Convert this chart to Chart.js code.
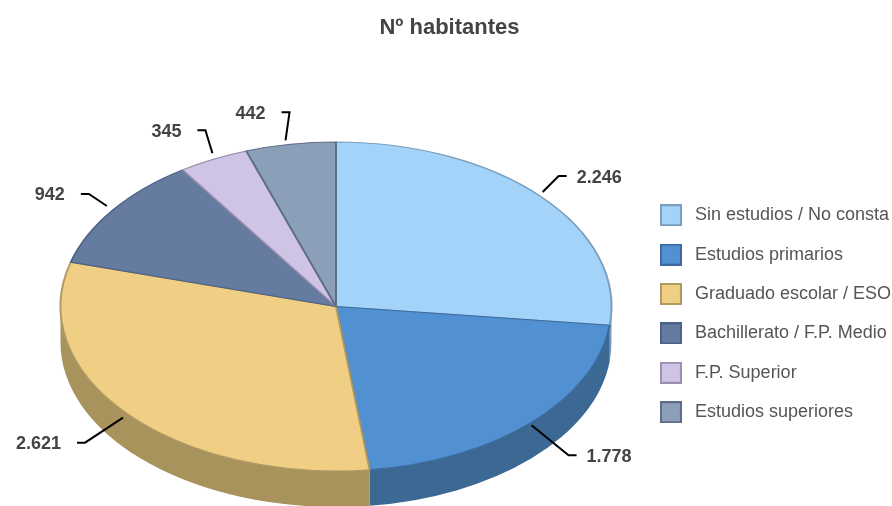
<!DOCTYPE html>
<html>
<head>
<meta charset="utf-8">
<script src="https://cdn.jsdelivr.net/npm/chart.js@4"></script>
<style>
    body { margin: 0; background: #fff; }
    canvas { display: block; }
</style>
</head>
<body>
<canvas id="pie" width="892" height="506"></canvas>
<script>
// datos
const categories = ['Sin estudios / No consta', 'Estudios primarios', 'Graduado escolar / ESO', 'Bachillerato / F.P. Medio', 'F.P. Superior', 'Estudios superiores'];
const habitantes = [2246, 1778, 2621, 942, 345, 442];
const valueLabels = ['2.246', '1.778', '2.621', '942', '345', '442'];

// colores
const topColors = ['#a4d3f9', '#5291d1', '#f0cf85', '#667ba0', '#cfc3e6', '#8b9fb8'];
const borderColors = ['#7a9fbe', '#3d6a9e', '#ae9a63', '#4d6288', '#9a8fae', '#5f6d88'];
const wallColors = ['#7b9fbd', '#3c6894', '#a8935c', '#4d5c78', '#9b92ad', '#68778a'];

// perspectiva de la tarta
const pieCentre = { x: 336, y: 306.5 };
const pieRadius = 275.5;
const tilt = 0.597;
const depth = 36;

// lineas de etiqueta, relativas al punto medio del borde de cada porcion
const leaderStart = [[1, -5], [0, 3], [-4, 4], [-6, -4], [-1, -6], [-5, -4]];
const leaderElbow = [[17, -21], [37, 33], [-42, 29], [-24, -16], [-8, -29], [-1, -32]];

// cuadrado de la leyenda
function makeSwatch(fill, stroke) {
    const c = document.createElement('canvas');
    c.width = 22;
    c.height = 22;
    const g = c.getContext('2d');
    g.fillStyle = stroke;
    g.fillRect(0, 0, 22, 22);
    g.fillStyle = fill;
    g.fillRect(2, 2, 18, 18);
    return c;
}

const pie3d = {
    id: 'pie3d',
    beforeDatasetsDraw(chart) {
        const ctx = chart.ctx;
        const arcs = chart.getDatasetMeta(0).data;
        const rx = pieRadius;
        const ry = pieRadius * tilt;

        // pared lateral: solo la mitad inferior de la elipse
        arcs.forEach((arc, i) => {
            const lo = Math.max(arc.startAngle, 0);
            const hi = Math.min(arc.endAngle, Math.PI);
            if (hi <= lo) return;
            ctx.beginPath();
            ctx.ellipse(pieCentre.x, pieCentre.y, rx, ry, 0, lo, hi);
            ctx.ellipse(pieCentre.x, pieCentre.y + depth, rx, ry, 0, hi, lo, true);
            ctx.closePath();
            ctx.fillStyle = wallColors[i];
            ctx.fill();
        });

        // la tapa se dibuja aplastada con la propia escala de Chart.js
        const first = arcs[0];
        ctx.save();
        ctx.translate(pieCentre.x, pieCentre.y);
        ctx.scale(1, tilt);
        ctx.translate(-first.x, -first.y);
    },
    afterDatasetsDraw(chart) {
        const ctx = chart.ctx;
        ctx.restore();

        const arcs = chart.getDatasetMeta(0).data;
        ctx.font = 'bold 18px "Liberation Sans"';
        ctx.textBaseline = 'middle';
        arcs.forEach((arc, i) => {
            const mid = (arc.startAngle + arc.endAngle) / 2;
            const px = pieCentre.x + pieRadius * Math.cos(mid);
            const py = pieCentre.y + pieRadius * tilt * Math.sin(mid);
            const ex = px + leaderElbow[i][0];
            const ey = py + leaderElbow[i][1];
            const side = Math.cos(mid) > 0 ? 1 : -1;

            ctx.beginPath();
            ctx.moveTo(px + leaderStart[i][0], py + leaderStart[i][1]);
            ctx.lineTo(ex, ey);
            ctx.lineTo(ex + side * 8, ey);
            ctx.strokeStyle = '#000';
            ctx.lineWidth = 2;
            ctx.stroke();

            ctx.fillStyle = '#444';
            ctx.textAlign = side > 0 ? 'left' : 'right';
            ctx.fillText(valueLabels[i], ex + side * (side > 0 ? 18 : 24), ey + 1.5);
        });
    }
};

new Chart(document.getElementById('pie').getContext('2d'), {
    type: 'pie',
    data: {
        labels: categories,
        datasets: [{
            data: habitantes,
            backgroundColor: topColors,
            borderColor: borderColors,
            borderWidth: 2,
            radius: pieRadius,
            clip: false
        }]
    },
    options: {
        responsive: false,
        animation: false,
        events: [],
        layout: { padding: { left: -2, right: -9 } },
        plugins: {
            title: {
                display: true,
                text: 'Nº habitantes',
                color: '#444',
                font: { family: '"Liberation Sans"', size: 22, weight: 'bold' },
                padding: { top: 15, bottom: 80 }
            },
            legend: {
                position: 'right',
                fullSize: false,
                labels: {
                    font: { family: '"Liberation Sans"', size: 18 },
                    usePointStyle: true,
                    pointStyleWidth: 30,
                    padding: 21.4,
                    generateLabels: chart => categories.map((text, i) => ({
                        text: text,
                        fontColor: '#555',
                        fillStyle: topColors[i],
                        strokeStyle: borderColors[i],
                        lineWidth: 0,
                        pointStyle: makeSwatch(topColors[i], borderColors[i]),
                        index: i
                    }))
                }
            },
            tooltip: { enabled: false }
        }
    },
    plugins: [pie3d]
});
</script>
</body>
</html>
